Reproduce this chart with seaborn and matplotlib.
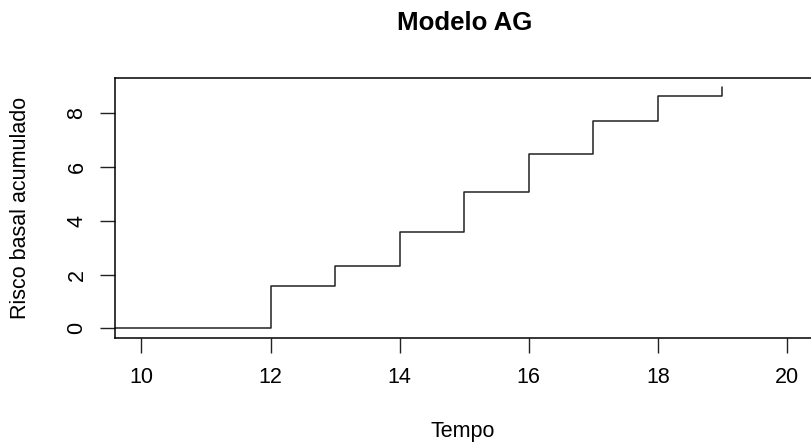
import matplotlib
matplotlib.use("Agg")
import matplotlib.pyplot as plt
import seaborn as sns
import pandas as pd

# Data
tempo = [0, 12, 13, 14, 15, 16, 17, 18, 19]
risco = [0.0, 1.57, 2.31, 3.57, 5.06, 6.50, 7.70, 8.64, 8.97]
x_ticks = [10, 12, 14, 16, 18, 20]
y_ticks = [0, 2, 4, 6, 8]
title = "Modelo AG"
xlabel = "Tempo"
ylabel = "Risco basal acumulado"

sns.set_theme(style="white")
plt.rcParams['font.family'] = ['Liberation Sans', 'DejaVu Sans']

df = pd.DataFrame({"tempo": tempo, "risco": risco})

fig = plt.figure(figsize=(8.11, 4.43), dpi=100)
ax = fig.add_axes([115 / 811, (443 - 338.3) / 443, 698.5 / 811, 260 / 443])

sns.lineplot(data=df, x="tempo", y="risco", ax=ax, estimator=None,
             drawstyle="steps-post", color="#222222", linewidth=1.1)

ax.set_xlim(9.59, 20.41)
ax.set_ylim(-0.37, 9.30)
ax.set_xticks(x_ticks)
ax.set_yticks(y_ticks)
ax.set_yticklabels([str(v) for v in y_ticks], rotation=90, va="center")

for s in ax.spines.values():
    s.set_visible(True)
    s.set_color("black")
    s.set_linewidth(1.1)

ax.tick_params(axis="both", direction="out", length=10.8, width=1.0,
               color="#222222", labelsize=15.5, labelcolor="black")
ax.tick_params(axis="x", pad=10, bottom=True)
ax.tick_params(axis="y", pad=9, left=True)

ax.set_xlabel(xlabel, fontsize=15.5, color="black")
ax.set_ylabel(ylabel, fontsize=15.5, color="black")
ax.xaxis.set_label_coords((463 - 115) / 698.5, (338.3 - 432) / 260)
ax.xaxis.label.set_va("center")
ax.yaxis.set_label_coords((20.5 - 115) / 698.5, 0.5)
ax.yaxis.label.set_va("center")

ax.set_title(title, fontsize=18.6, fontweight="bold", color="black",
             y=(338.3 - 23) / 260, va="center", pad=0)

fig.savefig("out.png", dpi=100)
